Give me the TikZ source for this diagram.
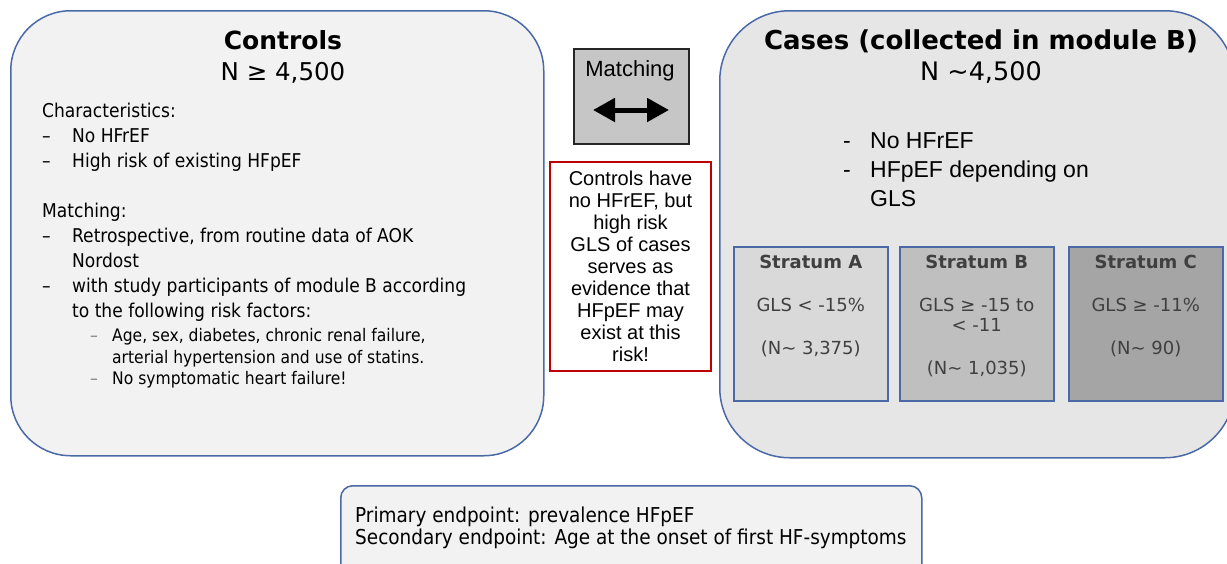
\documentclass[tikz,border=0pt]{standalone}
\usepackage{fontspec}
\setmainfont{DejaVu Sans}
\newfontfamily\tahoma{DejaVu Sans Condensed}
\newfontfamily\arial{Liberation Sans}
\usepackage{tikz}
\usetikzlibrary{arrows.meta,positioning}
\definecolor{frameblue}{HTML}{4A69A6}
\definecolor{notered}{HTML}{C00000}
\definecolor{ctlfill}{HTML}{F2F2F2}
\definecolor{casefill}{HTML}{E6E6E6}
\definecolor{matchfill}{HTML}{C6C6C6}
\definecolor{strafill}{HTML}{D9D9D9}
\definecolor{strbfill}{HTML}{BFBFBF}
\definecolor{strcfill}{HTML}{A5A5A5}
\definecolor{stratext}{HTML}{404040}
\newcommand{\fs}[2]{\fontsize{#1}{#2}\selectfont}
\newcommand{\dashitem}{\makebox[30pt][l]{–}}
\newcommand{\subdash}{\makebox[22pt][l]{\color{gray}–}}
\newcommand{\hyitem}{\makebox[27pt][l]{-}}

\begin{document}
\begin{tikzpicture}[x=1pt,y=-1pt,>={Triangle[length=22pt,width=23pt]},
  panel/.style={draw=frameblue,line width=1.5pt,anchor=north west,inner sep=0pt},
  stratum/.style={panel,minimum width=154,minimum height=154},
  strtitle/.style={font=\bfseries\fs{18}{20},text=stratext,inner sep=0pt},
  strtext/.style={font=\fs{18}{20},text=stratext,inner sep=0pt,align=center}]
  \useasboundingbox (0,0) rectangle (1227,563);

  \node[panel,fill=ctlfill,rounded corners=60pt,minimum width=533,minimum height=445] (controls) at (10,10) {};
  \node[panel,fill=casefill,rounded corners=70pt,minimum width=515,minimum height=447] (cases) at (719,10) {};
  \node[panel,draw=black!85,fill=matchfill,minimum width=115,minimum height=95] (matchbox) at (573,48) {};
  \node[panel,fill=ctlfill,rounded corners=12pt,minimum width=581,minimum height=95] (endpoints) at (340,485) {};

  \node[anchor=base,font=\bfseries\fs{25}{30}] (ctltitle) at (283,49) {Controls};
  \node[anchor=base,font=\fs{24.5}{30}] (ctlsize) at (283,80) {N ≥ 4,500};
  \node[anchor=north west,align=left,inner sep=0pt,font=\tahoma\fs{19}{25}] (ctlbody) at (42,102.5) {Characteristics:\\
    \dashitem No HFrEF\\
    \dashitem High risk of existing HFpEF\\[25pt]
    Matching:\\
    \dashitem Retrospective, from routine data of AOK\\
    \hspace*{30pt}Nordost\\
    \dashitem with study participants of module B according\\
    \hspace*{30pt}to the following risk factors:};
  \node[anchor=north west,align=left,inner sep=0pt,font=\tahoma\fs{17.3}{21.5}] (ctlsub) at (90,328.5) {\subdash Age, sex, diabetes, chronic renal failure,\\
    \hspace*{22pt}arterial hypertension and use of statins.\\
    \subdash No symptomatic heart failure!};

  \node[anchor=base,font=\arial\fs{22}{24}] (matchlabel) at (630,76) {Matching};
  \coordinate (arrL) at (593,110);
  \coordinate (arrR) at (669,110);
  \draw[<->,line width=5pt] (arrL) -- (arrR);

  \node[draw=notered,line width=1.5pt,fill=white,minimum width=161,minimum height=209,inner sep=0pt,
    align=center,font=\arial\fs{20}{22}] (note) at (630.5,266.5) {Controls have\\no HFrEF, but\\high risk\\GLS of cases\\serves as\\evidence that\\HFpEF may\\exist at this\\risk!};

  \node[anchor=base,font=\bfseries\fs{26}{30}] (casetitle) at (981,49) {Cases (collected in module B)};
  \node[anchor=base,font=\fs{25.5}{30}] (casesize) at (981,80) {N \textasciitilde4,500};
  \node[anchor=north west,align=left,inner sep=0pt,font=\arial\fs{23}{29}] (casebody) at (843,132) {\hyitem No HFrEF\\
    \hyitem HFpEF depending on\\
    \hspace*{27pt}GLS};

  \node[stratum,fill=strafill] (strA) at (733,246) {};
  \node[stratum,fill=strbfill] (strB) at (899,246) {};
  \node[stratum,fill=strcfill] (strC) at (1068,246) {};
  \node[strtitle,below=8.5pt of strA.north] (titA) {Stratum A};
  \node[strtitle,below=8.5pt of strB.north] (titB) {Stratum B};
  \node[strtitle,below=8.5pt of strC.north] (titC) {Stratum C};
  \node[strtext,below=29pt of titA] (glsA) {GLS < -15\%};
  \node[strtext,below=29pt of titB] (glsB) {GLS ≥ -15 to\\< -11};
  \node[strtext,below=29pt of titC] (glsC) {GLS ≥ -11\%};
  \node[strtext,below=29pt of glsA] (numA) {(N\textasciitilde{} 3,375)};
  \node[strtext,below=29pt of glsB] (numB) {(N\textasciitilde{} 1,035)};
  \node[strtext,below=29pt of glsC] (numC) {(N\textasciitilde{} 90)};

  \node[anchor=north west,align=left,inner sep=0pt,font=\tahoma\fs{20.5}{22}] (endtext) at (355,506.5) {Primary endpoint: prevalence HFpEF\\
    Secondary endpoint: Age at the onset of first HF-symptoms};
\end{tikzpicture}
\end{document}
